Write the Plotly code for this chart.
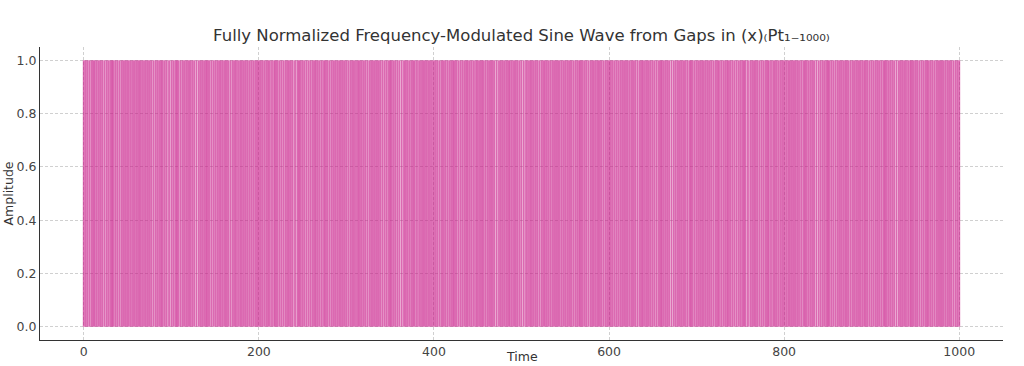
import plotly.graph_objects as go

# Estimated durations (time units) of each oscillation cycle, read from stripe spacing
cycle_periods = [
    4.2, 4.6, 3.9, 4.5, 4.1, 4.8, 4.3, 3.8, 4.4, 4.7, 4.0, 4.3, 4.6, 4.2, 3.9, 4.5, 4.4, 4.1, 4.8, 4.2, 4.0, 4.5, 5.2,
    4.5, 3.9, 4.8, 4.2, 4.0, 4.6, 5.2, 4.1, 4.3, 3.8, 4.7, 4.4, 4.2, 4.5, 3.9, 4.8, 4.0, 4.6, 4.3, 4.1, 4.4, 4.5, 4.2,
    4.0, 4.4, 4.2, 4.8, 3.8, 4.5, 4.6, 4.1, 4.3, 5.2, 3.9, 4.2, 4.7, 4.5, 4.0, 4.4, 4.8, 3.9, 4.6, 4.2, 4.5, 4.3, 4.1,
    4.6, 4.1, 4.5, 3.9, 4.3, 4.8, 4.2, 4.4, 4.0, 4.7, 4.5, 3.8, 4.2, 4.6, 5.2, 4.1, 4.3, 4.0, 4.8, 4.4, 3.9, 4.2, 4.5,
    4.3, 4.8, 4.0, 4.5, 4.2, 3.9, 4.6, 4.4, 4.1, 4.5, 4.8, 4.2, 3.8, 4.7, 4.3, 4.0, 5.2, 4.4, 4.2, 3.9, 4.6, 4.1, 4.5,
    5.2, 4.5, 4.0, 4.2, 4.8, 4.1, 4.4, 4.5, 3.9, 4.2, 4.6, 4.3, 4.0, 4.7, 4.4, 3.8, 4.3, 4.8, 4.1, 4.5, 3.9, 4.6, 4.2,
    4.2, 4.5, 4.4, 4.1, 4.3, 4.6, 4.0, 4.8, 3.9, 4.5, 4.2, 4.4, 4.7, 3.8, 4.3, 4.1, 5.2, 4.6, 4.0, 4.2, 4.8, 3.9, 4.5,
    4.1, 4.3, 4.5, 4.2, 4.6, 3.9, 4.8, 4.4, 4.0, 4.5, 4.7, 4.2, 3.9, 5.2, 4.3, 4.1, 4.6, 4.5, 3.8, 4.8, 4.2, 4.4, 4.0,
    4.5, 4.2, 3.9, 4.4, 4.8, 4.0, 4.3, 4.1, 5.2, 4.6, 4.2, 3.8, 4.5, 4.7, 4.0, 4.4, 4.2, 4.8, 4.3, 3.9, 4.5, 4.1, 4.6,
    4.5, 4.1, 4.6, 3.9, 4.2, 4.4, 5.2, 4.0, 4.3, 4.7, 3.8, 4.2, 4.8, 4.5, 4.1, 4.4, 4.6, 3.9, 4.2, 4.5, 4.0, 4.8, 4.3,
]
trough_value = 0.0
peak_value = 1.0

x_ticks = [0, 200, 400, 600, 800, 1000]
y_ticks = [0.0, 0.2, 0.4, 0.6, 0.8, 1.0]

# Each half-cycle swing between trough and peak appears as a near-vertical stroke
times, amps = [], []
t = 0.0
for p in cycle_periods:
    for s in (t, t + p / 2.0):
        times += [s, s, None]
        amps += [trough_value, peak_value, None]
    t += p
times += [t, t]
amps += [trough_value, peak_value]

fig = go.Figure()
fig.add_trace(go.Scatter(
    x=times, y=amps, mode="lines", connectgaps=False,
    line=dict(color="rgba(199,21,133,0.64)", width=1.9),
    hoverinfo="skip", showlegend=False,
))

font_family = "DejaVu Sans, Verdana, sans-serif"
W, H = 1024, 366
ml, mr, mt, mb = 40, 21, 47, 26
pw, ph = W - ml - mr, H - mt - mb

fig.update_layout(
    width=W, height=H, autosize=False,
    paper_bgcolor="white", plot_bgcolor="white",
    margin=dict(l=ml, r=mr, t=mt, b=mb, pad=0),
    font=dict(family=font_family, color="#444444", size=12),
    title=dict(
        text="Fully Normalized Frequency-Modulated Sine Wave from Gaps in (x)₍Pt₁₋₁₀₀₀₎",
        x=0.5, xref="paper", xanchor="center",
        y=1 - 35 / H, yref="container", yanchor="middle",
        font=dict(family=font_family, size=16.5, color="#333333"),
    ),
    annotations=[
        dict(text="Amplitude", textangle=-90, showarrow=False,
             xref="paper", yref="paper", x=(8 - ml) / pw, y=0.5,
             xanchor="center", yanchor="middle",
             font=dict(family=font_family, size=12.5, color="#333333")),
        dict(text="Time", showarrow=False,
             xref="paper", yref="paper", x=0.5, y=-(mb - 0.3) / ph,
             xanchor="center", yanchor="bottom",
             font=dict(family=font_family, size=12.5, color="#333333")),
    ],
)
fig.update_xaxes(
    range=[-50, 1050], tickvals=x_ticks, ticktext=[str(v) for v in x_ticks],
    showline=True, linecolor="#333333", linewidth=1.2, mirror=False,
    showgrid=True, gridcolor="#d0d0d0", gridwidth=0.8, griddash="3px,2px",
    zeroline=False, ticks="", ticklen=0,
    tickfont=dict(size=12.5, color="#444444"),
    automargin=False,
)
fig.update_yaxes(
    range=[-0.05, 1.05], tickvals=y_ticks, ticktext=[f"{v:.1f}" for v in y_ticks],
    showline=True, linecolor="#333333", linewidth=1.2, mirror=False,
    showgrid=True, gridcolor="#d0d0d0", gridwidth=0.8, griddash="3px,2px",
    zeroline=False, ticks="", ticklen=0,
    tickfont=dict(size=12.5, color="#444444"),
    automargin=False,
)

fig.write_html(
    "out.html",
    config={"displayModeBar": False},
    post_script="document.body.style.margin='0';",
)
